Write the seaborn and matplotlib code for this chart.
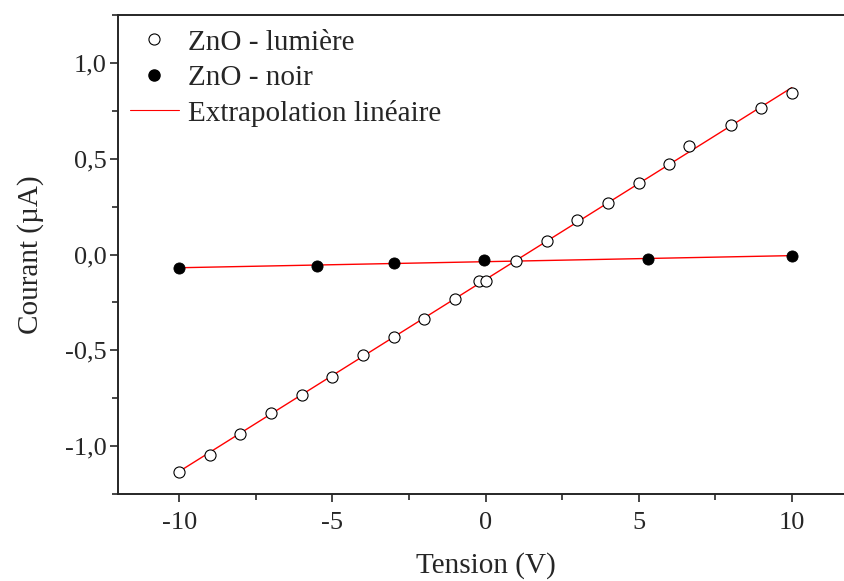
import numpy as np
import pandas as pd
import matplotlib
matplotlib.use("Agg")
import matplotlib.pyplot as plt
import seaborn as sns
from matplotlib.ticker import MultipleLocator, FuncFormatter
from matplotlib.lines import Line2D

# ZnO under light (open circles)
x_light = [-10, -9, -8, -7, -6, -5, -4, -3, -2, -1, -0.2, 0, 1, 2, 3, 4, 5, 6, 6.65, 8, 9, 10]
y_light = [-1.133, -1.044, -0.935, -0.825, -0.731, -0.637, -0.522, -0.428, -0.339, -0.23,
           -0.139, -0.139, -0.035, 0.073, 0.18, 0.27, 0.372, 0.472, 0.564, 0.674, 0.764, 0.842]

# ZnO in the dark (filled circles)
x_dark = [-10, -5.5, -3, -0.05, 5.29, 10]
y_dark = [-0.07, -0.062, -0.042, -0.031, -0.021, -0.009]

sns.set_style("ticks")
plt.rcParams["font.family"] = ["Liberation Serif", "DejaVu Serif"]
plt.rcParams["axes.unicode_minus"] = False

df_light = pd.DataFrame({"x": x_light, "y": y_light})
df_dark = pd.DataFrame({"x": x_dark, "y": y_dark})

# linear fits
xs = np.array([-10, 10])
p_light = np.polyfit(x_light, y_light, 1)
p_dark = np.polyfit(x_dark, y_dark, 1)
fit_light = pd.DataFrame({"x": xs, "y": np.polyval(p_light, xs)})
fit_dark = pd.DataFrame({"x": xs, "y": np.polyval(p_dark, xs)})

fig = plt.figure(figsize=(8.45, 5.81), dpi=100)
ax = fig.add_axes([0.1396, 0.1497, 0.870, 0.8245])

sns.lineplot(data=fit_light, x="x", y="y", color="red", lw=1.0, ax=ax)
sns.lineplot(data=fit_dark, x="x", y="y", color="red", lw=1.0, ax=ax)
sns.scatterplot(data=df_light, x="x", y="y", marker="o", s=64, facecolor="white",
                edgecolor="black", linewidth=0.8, ax=ax, zorder=3)
sns.scatterplot(data=df_dark, x="x", y="y", marker="o", s=64, color="black",
                edgecolor="black", ax=ax, zorder=3)

ax.set_xlim(-12, 12)
ax.set_ylim(-1.25, 1.25)
ax.xaxis.set_major_locator(MultipleLocator(5))
ax.xaxis.set_minor_locator(MultipleLocator(2.5))
ax.yaxis.set_major_locator(MultipleLocator(0.5))
ax.yaxis.set_minor_locator(MultipleLocator(0.25))
ax.yaxis.set_major_formatter(FuncFormatter(lambda v, p: f"{v:.1f}".replace(".", ",")))
ax.xaxis.set_major_formatter(FuncFormatter(lambda v, p: f"{v:.0f}"))

ax.tick_params(axis="both", which="major", direction="out", length=6, width=1.2,
               labelsize=19, pad=2)
ax.tick_params(axis="both", which="minor", direction="out", length=4, width=1.2)
ax.tick_params(axis="x", pad=7)
ax.spines["right"].set_visible(False)
for s in ["left", "bottom", "top"]:
    ax.spines[s].set_linewidth(1.4)

ax.set_xlabel("Tension (V)", fontsize=21, labelpad=13)
ax.set_ylabel("Courant (µA)", fontsize=21, labelpad=15)

handles = [
    Line2D([], [], marker="o", ls="none", mfc="white", mec="black", ms=8, mew=0.8),
    Line2D([], [], marker="o", ls="none", mfc="black", mec="black", ms=8),
    Line2D([], [], color="red", lw=0.8),
]
ax.legend(handles, ["ZnO - lumière", "ZnO - noir", "Extrapolation linéaire"],
          loc="upper left", bbox_to_anchor=(-0.02, 1.025), frameon=False, fontsize=21,
          handlelength=1.7, handletextpad=0.3, labelspacing=0.3)

fig.savefig("out.png", dpi=100)
